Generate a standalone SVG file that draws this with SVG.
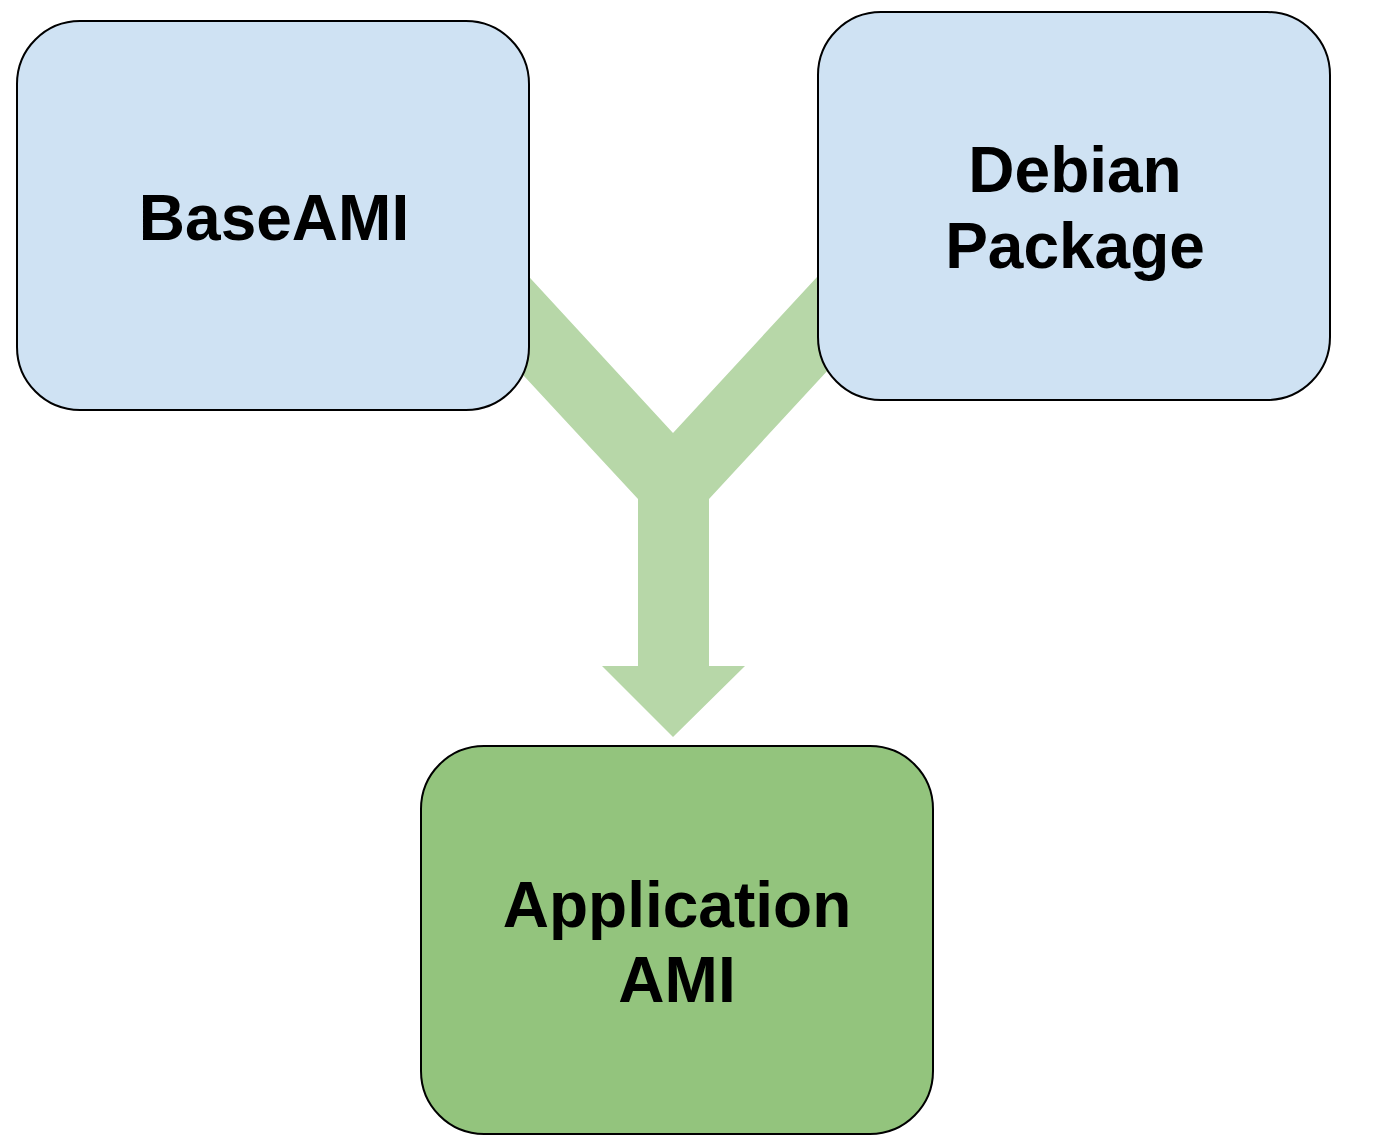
<svg xmlns="http://www.w3.org/2000/svg" width="1374" height="1148" viewBox="0 0 1374 1148">
<style>
.box{stroke:#000;stroke-width:2}
.blue{fill:#cfe2f3}
.green{fill:#93c47d}
.lbl{font-family:"Liberation Sans",Arial,sans-serif;font-weight:bold;font-size:64px;fill:#000;text-anchor:middle}
</style>
<rect width="1374" height="1148" fill="#fff"/>
<g id="connectors">
<polygon points="460,202 673,433 890,198 890,303 709,499 709,666 745,666 673,737 602,666 638,666 638,499 460,307" fill="#b7d7a8"/>
</g>
<g id="baseami">
<rect class="box blue" x="17" y="21" width="512" height="389" rx="63" ry="63"/>
<text class="lbl" x="274" y="240">BaseAMI</text>
</g>
<g id="debian">
<rect class="box blue" x="818" y="12" width="512" height="388" rx="63" ry="63"/>
<text class="lbl" x="1075" y="192">Debian</text>
<text class="lbl" x="1075" y="268">Package</text>
</g>
<g id="appami">
<rect class="box green" x="421" y="746" width="512" height="388" rx="63" ry="63"/>
<text class="lbl" x="677" y="927">Application</text>
<text class="lbl" x="677" y="1002">AMI</text>
</g>
</svg>
